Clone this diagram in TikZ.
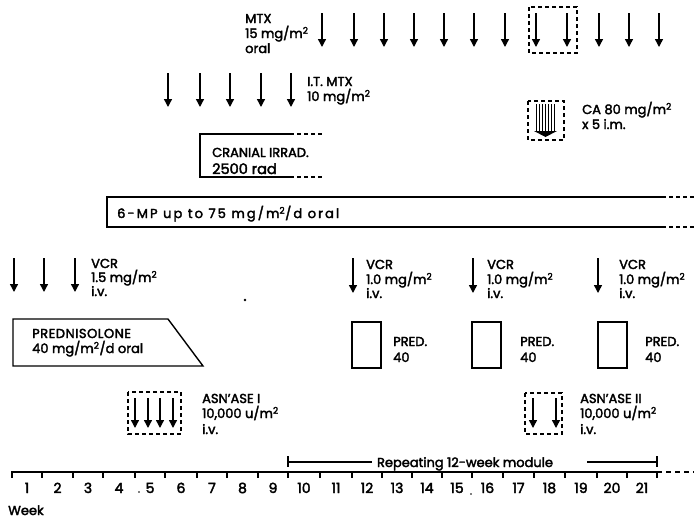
\documentclass[tikz,border=0pt]{standalone}
\usepackage{fontspec}
\setmainfont{Poppins}[FakeBold=2.6]
\usetikzlibrary{arrows.meta}
\newcommand{\sqr}{\textsuperscript{2}}
\tikzset{
  dose/.style={line width=1.4pt, -{Triangle[length=8pt,width=8pt]}},
  t/.style={anchor=base west, inner sep=0pt, font=\fontsize{13}{14}\selectfont},
  tc/.style={anchor=base, inner sep=0pt, font=\fontsize{13}{14}\selectfont},
  wk/.style={anchor=base, inner sep=0pt, font=\fontsize{14}{14}\selectfont},
  frame/.style={draw, line width=1.4pt},
  dframe/.style={draw, line width=1.4pt, dash pattern=on 4pt off 3pt},
}
\begin{document}
\begin{tikzpicture}[x=1pt,y=-1pt]
\useasboundingbox (0,0) rectangle (694,520);
% tick positions (week boundaries 0..21)
\def\T{{12,42,73,103,135,165,197,227,258,288,320,352,382,412,442,472,503,534,565,597,627,657}}
% --- timeline ---
\draw[line width=1.4pt] (12,472) -- (657,472);
\draw[line width=1.4pt, dash pattern=on 5pt off 4pt] (657,472) -- (694,472);
\foreach \i in {0,...,21} {
  \pgfmathsetmacro{\xx}{\T[\i]}
  \draw[line width=1.4pt] (\xx,471.4) -- (\xx,478);
}
\foreach \i [evaluate=\i as \j using int(\i-1)] in {1,...,21} {
  \pgfmathsetmacro{\xl}{\T[\j]}
  \pgfmathsetmacro{\xr}{\T[\i]}
  \node[wk] (w\i) at ({(\xl+\xr)/2},493) {\i};
}
\fill (139,492) circle (0.9);
\fill (471,494) circle (0.9);
\node[t] (week) at (8,515) {Week};
% repeating module
\node[tc] (rep) at (465,467) {Repeating 12-week module};
\draw[line width=1.3pt] (288,456) -- (288,467);
\draw[line width=1.3pt] (288,462) -- (372,462);
\draw[line width=1.3pt] (587,462) -- (657,462);
\draw[line width=1.3pt] (657,456) -- (657,467);
% --- MTX oral ---
\node[t] (mtx1) at (245,23) {MTX};
\node[t] (mtx2) at (245,38) {15 mg/m\sqr};
\node[t] (mtx3) at (245,53) {oral};
\foreach \i in {10,...,21} {
  \pgfmathsetmacro{\xx}{\T[\i]+2}
  \draw[dose] (\xx,13) -- (\xx,47);
}
\draw[dframe] (529,7) rectangle (577,53);
% --- IT MTX ---
\foreach \i in {5,...,9} {
  \pgfmathsetmacro{\xx}{\T[\i]+3}
  \draw[dose] (\xx,73) -- (\xx,107);
}
\node[t] (it1) at (307,86) {I.T. MTX};
\node[t] (it2) at (307,101) {10 mg/m\sqr};
% --- CA ---
\draw[dframe] (528,101) rectangle (564,140);
\foreach \xx in {536,539,542,545,548,551,554} {
  \draw[line width=0.9pt] (\xx,104) -- (\xx,132);
}
\fill (534,131) -- (557,131) -- (545.5,137) -- cycle;
\node[t] (ca1) at (582,114) {CA 80 mg/m\sqr};
\node[t] (ca2) at (582,129) {x 5 i.m.};
% --- cranial irradiation ---
\draw[frame] (290,134) -- (200,134) -- (200,177) -- (290,177);
\draw[dframe] (290,134) -- (322,134);
\draw[dframe] (290,177) -- (322,177);
\node[t] (cr1) at (212,157) {CRANIAL IRRAD.};
\node[t, font=\fontsize{14.5}{14}\selectfont] (cr2) at (212,174) {2500 rad};
% --- 6-MP ---
\draw[frame] (662,197) -- (107,197) -- (107,227) -- (662,227);
\draw[dframe] (662,197) -- (694,197);
\draw[dframe] (662,227) -- (694,227);
\node[t] (mp) at (117,218) {\addfontfeatures{LetterSpace=16}6-MP up to 75 mg/m\sqr/d oral};
% --- VCR induction ---
\foreach \i in {0,1,2} {
  \pgfmathsetmacro{\xx}{\T[\i]+2}
  \draw[dose] (\xx,258) -- (\xx,292);
}
\node[t] (v1) at (91,268) {VCR};
\node[t] (v2) at (91,282) {1.5 mg/m\sqr};
\node[t] (v3) at (91,296) {i.v.};
\fill (245,300) circle (1.3);
% --- prednisolone ---
\draw[frame] (13,319) -- (168,319) -- (203,366) -- (13,366) -- cycle;
\node[t] (pr1) at (32,338) {\addfontfeatures{LetterSpace=4}PREDNISOLONE};
\node[t] (pr2) at (32,353) {40 mg/m\sqr/d oral};
% --- VCR reinforcement + PRED ---
\foreach \k/\i/\bx/\tx/\px in {a/11/352/366/393, b/15/472/487/520, c/19/598/619/645} {
  \pgfmathsetmacro{\xx}{\T[\i]+1}
  \draw[dose] (\xx,258) -- (\xx,293);
  \node[t] (vcr\k1) at (\tx,269) {VCR};
  \node[t] (vcr\k2) at (\tx,284) {1.0 mg/m\sqr};
  \node[t] (vcr\k3) at (\tx,298) {i.v.};
  \draw[frame] (\bx,322) rectangle ++(29,46);
  \node[t] (pred\k1) at (\px,346) {PRED.};
  \node[t] (pred\k2) at (\px,362) {40};
}
% --- ASNase I ---
\draw[dframe] (128,392) rectangle (181,434);
\foreach \xx in {135,148,160,173} {
  \draw[dose] (\xx,398) -- (\xx,428);
}
\node[t] (as1) at (202,403) {ASN'ASE I};
\node[t] (as2) at (202,418) {10,000 u/m\sqr};
\node[t] (as3) at (202,434) {i.v.};
% --- ASNase II ---
\draw[dframe] (525,393) rectangle (562,434);
\foreach \xx in {533,556} {
  \draw[dose] (\xx,398) -- (\xx,428);
}
\node[t] (bs1) at (580,403) {ASN'ASE II};
\node[t] (bs2) at (580,418) {10,000 u/m\sqr};
\node[t] (bs3) at (580,434) {i.v.};
\end{tikzpicture}
\end{document}
